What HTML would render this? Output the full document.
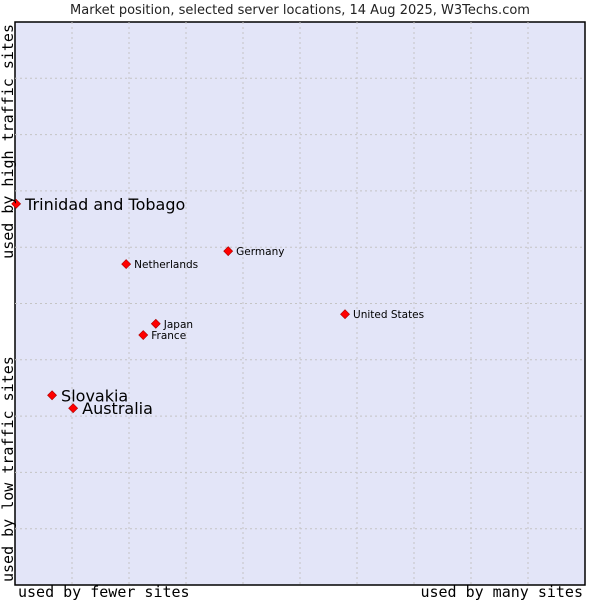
<!DOCTYPE html>
<html><head><meta charset="utf-8"><style>
body{margin:0;background:#fff;}
svg{display:block;font-family:"DejaVu Sans","Liberation Sans",sans-serif;}
</style></head><body>
<svg id="chart" width="600" height="600">
<text x="300" y="14" text-anchor="middle" font-size="13" fill="#222">Market position, selected server locations, 14 Aug 2025, W3Techs.com</text>
<rect x="15" y="22" width="570" height="563" fill="#e3e5f8" stroke="#000" stroke-width="1.5"/>
<g id="grid"></g>
<g id="points"></g>
<text x="18" y="597" font-family="DejaVu Sans Mono,Liberation Mono,monospace" font-size="15" fill="#000">used by fewer sites</text>
<text x="583" y="597" text-anchor="end" font-family="DejaVu Sans Mono,Liberation Mono,monospace" font-size="15" fill="#000">used by many sites</text>
<text transform="translate(13,582) rotate(-90)" font-family="DejaVu Sans Mono,Liberation Mono,monospace" font-size="15" fill="#000">used by low traffic sites</text>
<text transform="translate(13,24) rotate(-90)" text-anchor="end" font-family="DejaVu Sans Mono,Liberation Mono,monospace" font-size="15" fill="#000">used by high traffic sites</text>
</svg>
<script>
const names = ["Trinidad and Tobago","Germany","Netherlands","United States","Japan","France","Slovakia","Australia"];
const xValues = [0.2,37.4,19.5,57.9,24.7,22.5,6.5,10.2];
const yValues = [67.7,59.3,57.0,48.1,46.4,44.4,33.7,31.4];
const bigLabel = [true,false,false,false,false,false,true,true];
const X0=15,X1=585,Y0=585,Y1=22;
function sx(v){return X0+(X1-X0)*v/100;}
function sy(v){return Y0-(Y0-Y1)*v/100;}
const NS="http://www.w3.org/2000/svg";
const grid=document.getElementById('grid');
for(let i=1;i<10;i++){
  const v=document.createElementNS(NS,'line');
  v.setAttribute('x1',sx(i*10));v.setAttribute('x2',sx(i*10));v.setAttribute('y1',Y1);v.setAttribute('y2',Y0);
  v.setAttribute('stroke','#c4c4c4');v.setAttribute('stroke-dasharray','2,3');
  
  
  grid.appendChild(v);
  const h=document.createElementNS(NS,'line');
  h.setAttribute('y1',sy(i*10));h.setAttribute('y2',sy(i*10));h.setAttribute('x1',X0);h.setAttribute('x2',X1);
  h.setAttribute('stroke','#c4c4c4');h.setAttribute('stroke-dasharray','2,3');
  
  
  grid.appendChild(h);
}
const pts=document.getElementById('points');
names.forEach((n,i)=>{
  const x=sx(xValues[i]),y=sy(yValues[i]);
  const d=document.createElementNS(NS,'path');
  d.setAttribute('d',`M${x},${y-4.5}L${x+4.5},${y}L${x},${y+4.5}L${x-4.5},${y}Z`);
  d.setAttribute('fill','#f00');d.setAttribute('stroke','#a00');d.setAttribute('stroke-width','0.6');
  
  
  pts.appendChild(d);
  const t=document.createElementNS(NS,'text');
  t.setAttribute('x',x+(bigLabel[i]?9:8));t.setAttribute('y',y+(bigLabel[i]?6:4));
  t.setAttribute('font-size',bigLabel[i]?'16':'10.5');t.setAttribute('fill','#000');
  t.textContent=n;
  
  
  pts.appendChild(t);
});
</script>
</body></html>
